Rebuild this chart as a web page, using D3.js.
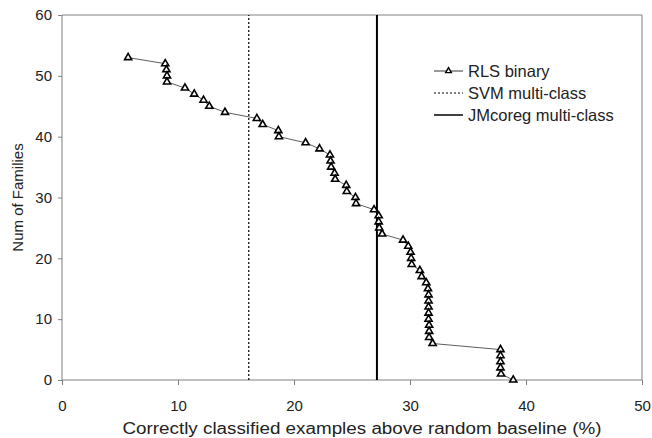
<!DOCTYPE html>
<meta charset="utf-8">
<style>
body { margin: 0; background: #fff; }
text { font-family: Arial, "Liberation Sans", Helvetica, sans-serif; fill: #222; }
.axis path, .axis line { stroke: #808080; }
.axis text { font-size: 15px; }
</style>
<body>
<script src="https://d3js.org/d3.v7.min.js"></script>
<script>

// RLS binary: % above random baseline for each count of families
var rlsAccuracy = [5.7, 8.9, 9.0, 9.05, 9.05, 10.6, 11.4, 12.2, 12.7, 14.05,
  16.8, 17.3, 18.65, 18.7, 21.0, 22.2, 23.1, 23.15, 23.2, 23.5,
  23.55, 24.5, 24.55, 25.3, 25.35, 26.9, 27.3, 27.3, 27.35, 27.6,
  29.4, 29.85, 30.05, 30.1, 30.15, 30.85, 31.0, 31.4, 31.55, 31.6,
  31.6, 31.6, 31.6, 31.6, 31.65, 31.65, 31.65, 31.95, 37.8, 37.8,
  37.8, 37.8, 37.85, 38.9];
var rlsFamilies = [53, 52, 51, 50, 49, 48, 47, 46, 45, 44,
  43, 42, 41, 40, 39, 38, 37, 36, 35, 34,
  33, 32, 31, 30, 29, 28, 27, 26, 25, 24,
  23, 22, 21, 20, 19, 18, 17, 16, 15, 14,
  13, 12, 11, 10, 9, 8, 7, 6, 5, 4,
  3, 2, 1, 0];

var svmMulticlass = 16.1,
    jmcoregMulticlass = 27.15;

var xTicks = [0, 10, 20, 30, 40, 50],
    yTicks = [0, 10, 20, 30, 40, 50, 60];

var legendLabels = ["RLS binary", "SVM multi-class", "JMcoreg multi-class"];

var width = 652, height = 438,
    margin = {top: 15, right: 10, bottom: 58, left: 62};

var x = d3.scaleLinear().domain([0, 50]).range([margin.left, width - margin.right]);
var y = d3.scaleLinear().domain([0, 60]).range([height - margin.bottom, margin.top]);

var svg = d3.select("body").append("svg")
    .attr("width", width)
    .attr("height", height);

// frame (top and right)
svg.append("path")
    .attr("d", "M" + x(0) + "," + y(60) + "H" + x(50) + "V" + y(0))
    .attr("fill", "none")
    .attr("stroke", "#808080");

svg.append("g")
    .attr("class", "axis")
    .attr("transform", "translate(0," + y(0) + ")")
    .call(d3.axisBottom(x).tickValues(xTicks).tickSize(5).tickPadding(15))
    .call(g => g.select(".domain").attr("d", "M" + x(0) + ",0H" + x(50)));

svg.append("g")
    .attr("class", "axis")
    .attr("transform", "translate(" + x(0) + ",0)")
    .call(d3.axisLeft(y).tickValues(yTicks).tickSize(4).tickPadding(6))
    .call(g => g.select(".domain").attr("d", "M0," + y(0) + "V" + y(60)));

svg.append("text")
    .attr("x", 362)
    .attr("y", 434)
    .attr("text-anchor", "middle")
    .attr("textLength", 479)
    .attr("lengthAdjust", "spacingAndGlyphs")
    .style("font-size", "16px")
    .text("Correctly classified examples above random baseline (%)");

svg.append("text")
    .attr("transform", "translate(23," + ((y(0) + y(60)) / 2) + ")rotate(-90)")
    .attr("text-anchor", "middle")
    .style("font-size", "15px")
    .text("Num of Families");

// vertical reference lines
svg.append("line")
    .attr("x1", x(svmMulticlass)).attr("x2", x(svmMulticlass))
    .attr("y1", y(0)).attr("y2", y(60))
    .attr("stroke", "#000")
    .attr("stroke-width", 1.2)
    .attr("stroke-dasharray", "2,2");

svg.append("line")
    .attr("x1", x(jmcoregMulticlass)).attr("x2", x(jmcoregMulticlass))
    .attr("y1", y(0)).attr("y2", y(60))
    .attr("stroke", "#000")
    .attr("stroke-width", 2);

var points = rlsAccuracy.map((a, i) => [a, rlsFamilies[i]]);

svg.append("path")
    .datum(points)
    .attr("fill", "none")
    .attr("stroke", "#333")
    .attr("stroke-width", 0.8)
    .attr("d", d3.line().x(d => x(d[0])).y(d => y(d[1])));

var tri = d3.symbol().type(d3.symbolTriangle).size(22);

svg.append("g").selectAll("path")
    .data(points)
  .enter().append("path")
    .attr("transform", d => "translate(" + x(d[0]) + "," + y(d[1]) + ")")
    .attr("d", tri)
    .attr("fill", "#fff")
    .attr("stroke", "#000")
    .attr("stroke-width", 1.6);

// legend
var legend = svg.append("g").attr("transform", "translate(434,71)");
legendLabels.forEach(function(label, i) {
  var row = legend.append("g").attr("transform", "translate(0," + (i * 22) + ")");
  var ln = row.append("line")
      .attr("x1", 0).attr("x2", 29)
      .attr("stroke", "#000");
  if (i === 0) {
    ln.attr("stroke-width", 0.8);
    row.append("path").attr("transform", "translate(14.5,0)")
        .attr("d", d3.symbol().type(d3.symbolTriangle).size(14))
        .attr("fill", "#fff").attr("stroke", "#000").attr("stroke-width", 1.4);
  } else if (i === 1) {
    ln.attr("stroke-dasharray", "2,2");
  } else {
    ln.attr("stroke-width", 1.5);
  }
  row.append("text")
      .attr("x", 34)
      .attr("dy", "0.35em")
      .style("font-size", "16.5px")
      .text(label);
});

</script>
